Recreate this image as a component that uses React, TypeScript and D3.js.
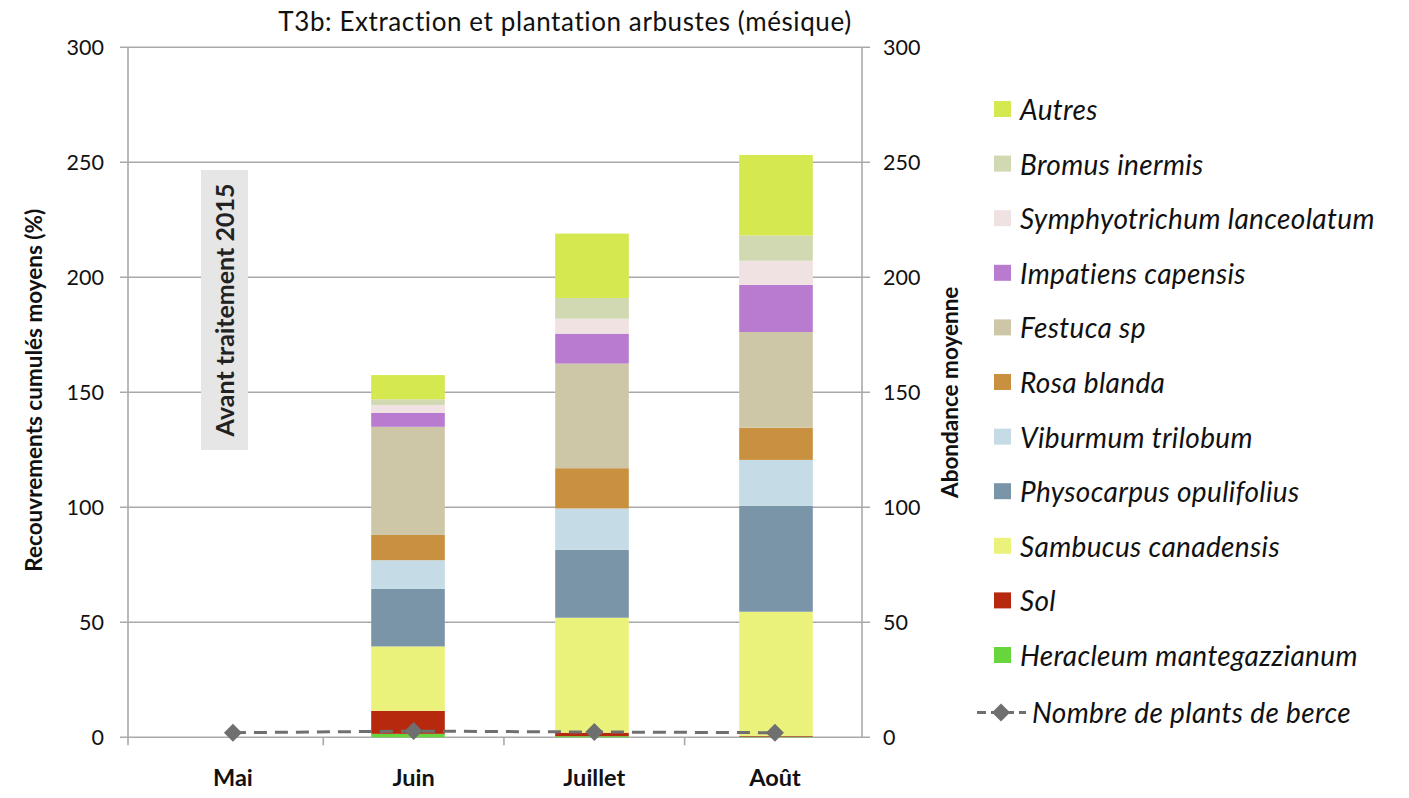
import React from "react";
import * as d3 from "d3";

// Months sampled
const months = ["Mai", "Juin", "Juillet", "Août"];

// Mean cumulative cover (%) per species, stacked bottom to top
const heracleum = [0, 1.5, 0.5, 0.3];
const sol = [0, 10, 1.5, 0.3];
const sambucus = [0, 28, 50, 54];
const physocarpus = [0, 25, 29.5, 46];
const viburnum = [0, 12.5, 18, 20];
const rosa = [0, 11, 17.5, 14];
const festuca = [0, 47, 45.5, 41.6];
const impatiens = [0, 6, 13, 20.5];
const symphyotrichum = [0, 3.5, 6.5, 10.5];
const bromus = [0, 2.5, 9, 11];
const autres = [0, 10.5, 28, 35];

// Mean number of giant hogweed plants (right axis)
const berce = [2, 2.7, 2.3, 2];

const yTicks = [0, 50, 100, 150, 200, 250, 300];

const seriesNames = [
  "Heracleum mantegazzianum",
  "Sol",
  "Sambucus canadensis",
  "Physocarpus opulifolius",
  "Viburmum trilobum",
  "Rosa blanda",
  "Festuca sp",
  "Impatiens capensis",
  "Symphyotrichum lanceolatum",
  "Bromus inermis",
  "Autres",
];
const seriesValues = [
  heracleum,
  sol,
  sambucus,
  physocarpus,
  viburnum,
  rosa,
  festuca,
  impatiens,
  symphyotrichum,
  bromus,
  autres,
];
const seriesColors = [
  "#66d63c",
  "#b7290f",
  "#ebf27c",
  "#7b95a8",
  "#c5dce6",
  "#c9913f",
  "#cdc6a7",
  "#b97bd0",
  "#f0e2e2",
  "#d0d9b1",
  "#d5e84f",
];

const W = 1409;
const H = 798;
const plotLeft = 128;
const plotRight = 862;
const plotTop = 47.3;
const plotBottom = 737.3;
const FONT = "Lato, 'Open Sans', sans-serif";
const GRID = "#a9a9a9";
const LINE = "#6f6f6f";

export default function App() {
  const y = d3.scaleLinear().domain([0, 300]).range([plotBottom, plotTop]);
  const yRight = d3.scaleLinear().domain([0, 300]).range([plotBottom, plotTop]);

  const xBars = d3
    .scaleBand<string>()
    .domain(months)
    .range([132, 868])
    .paddingInner(0.6)
    .paddingOuter(0.3);
  const xCat = d3
    .scalePoint<string>()
    .domain(months)
    .range([142.6, 865.3])
    .padding(0.5);

  const rows = months.map((m, i) => {
    const row: Record<string, number | string> = { month: m };
    seriesNames.forEach((n, k) => (row[n] = seriesValues[k][i]));
    return row;
  });
  const stacked = d3.stack<any>().keys(seriesNames)(rows);

  const lineGen = d3
    .line<number>()
    .x((_, i) => xCat(months[i])!)
    .y((d) => yRight(d));

  const step = xCat.step();
  const catTicks = months.slice(1).map((m) => xCat(m)! - step / 2);

  const legendOrder = [...seriesNames].reverse();
  const legendTop = 110;
  const legendStep = 54.6;

  const diamond = (cx: number, cy: number, r: number, key?: string) => (
    <path
      key={key}
      d={`M${cx},${cy - r}L${cx + r},${cy}L${cx},${cy + r}L${cx - r},${cy}Z`}
      fill={LINE}
    />
  );

  return (
    <svg
      width={W}
      height={H}
      style={{ position: "absolute", left: 0, top: 0, background: "#fff" }}
      fontFamily={FONT}
    >
      {/* title */}
      <text x={565} y={31} textAnchor="middle" fontSize={26} letterSpacing={0.6} fill="#111">
        T3b: Extraction et plantation arbustes (mésique)
      </text>

      {/* gridlines with outside ticks on both axes */}
      {yTicks.map((t) => (
        <line
          key={t}
          x1={plotLeft - 8}
          x2={plotRight + 8}
          y1={y(t)}
          y2={y(t)}
          stroke={GRID}
          strokeWidth={1.6}
        />
      ))}
      <line x1={plotLeft} x2={plotLeft} y1={plotTop} y2={plotBottom + 8} stroke={GRID} strokeWidth={1.6} />
      <line x1={plotRight} x2={plotRight} y1={plotTop} y2={plotBottom} stroke={GRID} strokeWidth={1.6} />
      {catTicks.map((cx, i) => (
        <line key={i} x1={cx} x2={cx} y1={plotBottom} y2={plotBottom + 8} stroke={GRID} strokeWidth={1.6} />
      ))}

      {/* left tick labels */}
      {yTicks.map((t) => (
        <text key={t} x={104} y={y(t)} dy="0.36em" textAnchor="end" fontSize={21.5} fill="#111">
          {t}
        </text>
      ))}
      {/* right tick labels */}
      {yTicks.map((t) => (
        <text key={t} x={883} y={yRight(t)} dy="0.36em" textAnchor="start" fontSize={21.5} fill="#111">
          {t}
        </text>
      ))}

      {/* axis titles */}
      <text
        transform={`translate(42,${(plotTop + plotBottom) / 2 - 2}) rotate(-90)`}
        textAnchor="middle"
        fontSize={22.5}
        fontWeight="bold"
        fill="#111"
      >
        Recouvrements cumulés moyens (%)
      </text>
      <text
        transform={`translate(958,${(plotTop + plotBottom) / 2}) rotate(-90)`}
        textAnchor="middle"
        fontSize={22.5}
        fontWeight="bold"
        fill="#111"
      >
        Abondance moyenne
      </text>

      {/* stacked bars */}
      {stacked.map((layer, k) => (
        <g key={layer.key} fill={seriesColors[k]}>
          {layer.map((d, i) =>
            d[1] - d[0] > 0 ? (
              <rect
                key={i}
                x={xBars(months[i])!}
                width={xBars.bandwidth()}
                y={y(d[1])}
                height={y(d[0]) - y(d[1])}
              />
            ) : null
          )}
        </g>
      ))}

      {/* pre-treatment annotation */}
      <rect x={201} y={170} width={47} height={280} fill="#e6e6e6" />
      <text
        transform={`translate(234,310) rotate(-90)`}
        textAnchor="middle"
        fontSize={25}
        fontWeight="bold"
        fill="#222"
      >
        Avant traitement 2015
      </text>

      {/* hogweed count line */}
      <path
        d={lineGen(berce)!}
        fill="none"
        stroke={LINE}
        strokeWidth={3}
        strokeDasharray="13,8"
      />
      {berce.map((v, i) => diamond(xCat(months[i])!, yRight(v), 9, "d" + i))}

      {/* category labels */}
      {months.map((m) => (
        <text key={m} x={xCat(m)!} y={786} textAnchor="middle" fontSize={23.5} fontWeight="bold" fill="#111">
          {m}
        </text>
      ))}

      {/* legend */}
      {legendOrder.map((name, j) => {
        const k = seriesNames.indexOf(name);
        const cy = legendTop + j * legendStep;
        return (
          <g key={name}>
            <rect x={994} y={cy - 9} width={17} height={16} fill={seriesColors[k]} />
            <text x={1020} y={cy} dy="0.36em" fontSize={28} letterSpacing={0.35} fontStyle="italic" fill="#111">
              {name}
            </text>
          </g>
        );
      })}
      {(() => {
        const cy = legendTop + legendOrder.length * legendStep + 2;
        return (
          <g>
            <line x1={977} x2={1026} y1={cy} y2={cy} stroke={LINE} strokeWidth={3} strokeDasharray="9,5" />
            {diamond(1001, cy, 9)}
            <text x={1032} y={cy} dy="0.36em" fontSize={28} letterSpacing={0.35} fontStyle="italic" fill="#111">
              Nombre de plants de berce
            </text>
          </g>
        );
      })()}
    </svg>
  );
}
